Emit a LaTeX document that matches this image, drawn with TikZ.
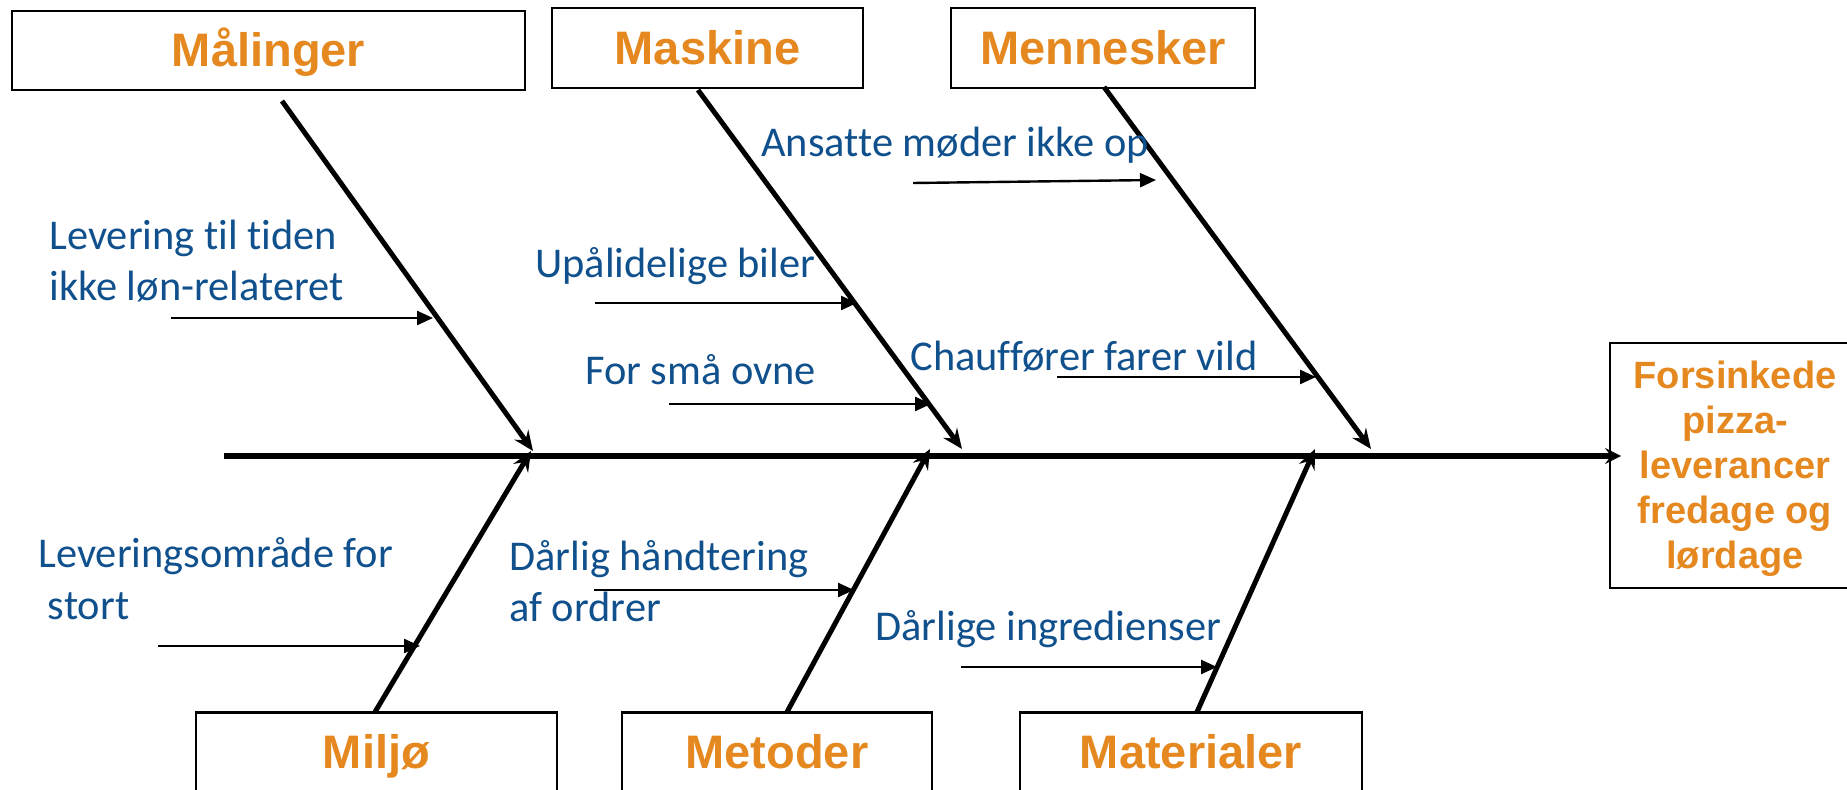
\documentclass[tikz,border=0pt]{standalone}
\usepackage{fontspec}
\usetikzlibrary{arrows.meta}
\newfontfamily\catfont{Liberation Sans}
\newfontfamily\causefont{Carlito}[Ligatures=NoCommon]
\definecolor{catorange}{RGB}{228,136,31}
\definecolor{causeblue}{RGB}{16,80,140}

\begin{document}
\begin{tikzpicture}[x=0.5pt,y=-0.5pt,
  catbox/.style={draw, line width=1.2pt, inner sep=0pt, text=catorange,
    font=\catfont\bfseries\fontsize{23.5}{28}\selectfont,
    text height=16.45pt, text depth=0pt, minimum height=39.5pt},
  bone/.style={line width=2.5pt, -{Stealth[length=10pt,width=8.5pt,inset=3.5pt]}},
  spine/.style={line width=2.8pt, -{Stealth[length=8pt,width=8pt,inset=3pt]}},
  causearrow/.style={line width=1.2pt, -{Triangle[length=8pt,width=7pt]}},
  % multi-line causes are anchored on the baseline of their last line
  cause/.style={font=\causefont\fontsize{21.2}{25.5}\selectfont, text=causeblue,
    inner sep=0pt, anchor=base west, align=left},
]
\useasboundingbox (0,0) rectangle (1847,790);
\clip (0,0) rectangle (1847,790);

% category boxes
\node[catbox, minimum width=256.5pt] (maal) at (268.5,50.5) {Målinger};
\node[catbox, minimum width=155.5pt, minimum height=40pt] (mask) at (707.5,48) {Maskine};
\node[catbox, minimum width=152pt, minimum height=40pt] (menn) at (1103,48) {Mennesker};
\node[catbox, minimum width=180.5pt] (milj) at (376.5,752) {Miljø};
\node[catbox, minimum width=155pt] (meto) at (777,752) {Metoder};
\node[catbox, minimum width=171pt] (mate) at (1191,752) {Materialer};

% effect box
\node[draw, line width=1.2pt, inner sep=0pt, minimum width=125pt, minimum height=122.5pt,
  text=catorange, font=\catfont\bfseries\fontsize{19}{22.5}\selectfont, align=center,
  text height=103.5pt, text depth=0pt]
  (effect) at (1735,465.5) {Forsinkede\\pizza-\\leverancer\\fredage og\\lørdage};

% spine
\coordinate (spineL) at (224,456);
\coordinate (spineR) at (1621,456);
\draw[spine] (spineL) -- (spineR);

% bones
\coordinate (maalS) at (282,101);  \coordinate (maalT) at (533,451);
\coordinate (maskS) at (698,90);   \coordinate (maskT) at (962,449);
\coordinate (mennS) at (1104,87);  \coordinate (mennT) at (1371,449);
\coordinate (miljS) at (375,712);  \coordinate (miljT) at (531,451);
\coordinate (metoS) at (787,712);  \coordinate (metoT) at (930,449);
\coordinate (mateS) at (1197,712); \coordinate (mateT) at (1315,449);
\draw[bone] (maalS) -- (maalT);
\draw[bone] (maskS) -- (maskT);
\draw[bone] (mennS) -- (mennT);
\draw[bone] (miljS) -- (miljT);
\draw[bone] (metoS) -- (metoT);
\draw[bone] (mateS) -- (mateT);

% causes
\node[cause] (c1) at (49,301) {Levering til tiden\\ikke løn-relateret};
\node[cause] (c2) at (38,619) {Leveringsområde for\\\hspace*{0.226em}stort};
\node[cause] (c3) at (535,278) {Upålidelige biler};
\node[cause] (c4) at (585,385) {For små ovne};
\node[cause] (c5) at (509,622) {Dårlig håndtering\\af ordrer};
\node[cause] (c6) at (761,157) {Ansatte møder ikke op};
\node[cause] (c7) at (910,371) {Chauffører farer vild};
\node[cause] (c8) at (875,640) {Dårlige ingredienser};

% cause arrows
\coordinate (a1s) at (171,318);  \coordinate (a1e) at (433,318);
\coordinate (a2s) at (158,646);  \coordinate (a2e) at (420,646);
\coordinate (a3s) at (595,303);  \coordinate (a3e) at (857,303);
\coordinate (a4s) at (669,404);  \coordinate (a4e) at (931,404);
\coordinate (a5s) at (594,590);  \coordinate (a5e) at (854,590);
\coordinate (a6s) at (913,183);  \coordinate (a6e) at (1156,180);
\coordinate (a7s) at (1057,377); \coordinate (a7e) at (1316,377);
\coordinate (a8s) at (961,667);  \coordinate (a8e) at (1217,667);
\foreach \i in {1,...,8} {\draw[causearrow] (a\i s) -- (a\i e);}
\end{tikzpicture}
\end{document}
